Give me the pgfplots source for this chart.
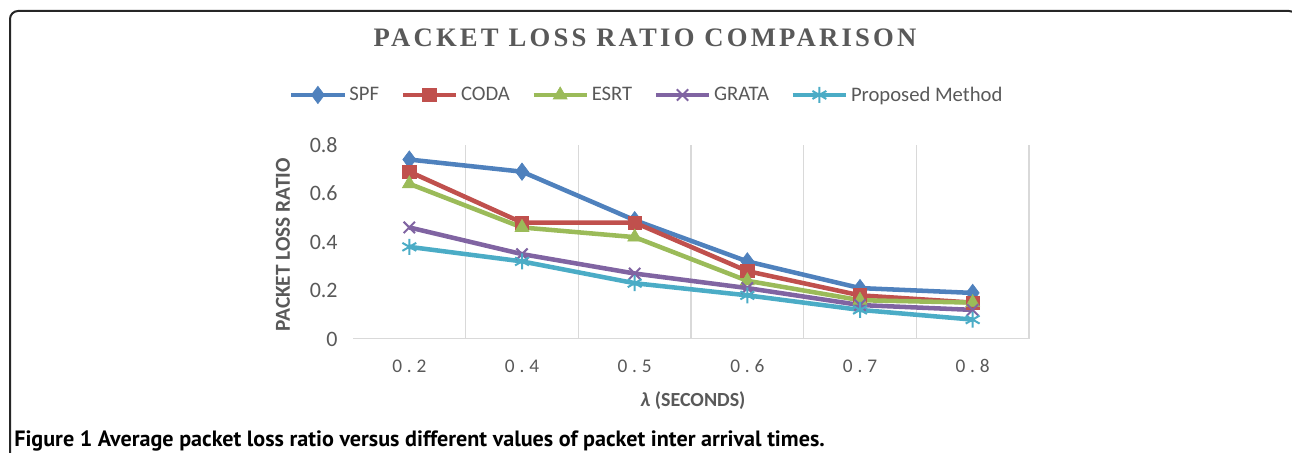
\documentclass[border=0pt]{standalone}
\usepackage{fontspec}
\setmainfont{Carlito}[Ligatures=NoCommon]
\newfontfamily\titlefont[LetterSpace=12]{Liberation Serif}
\newfontfamily\spaced[LetterSpace=25]{Carlito}
\newfontfamily\capfont{PT Sans}
\usepackage{pgfplots}
\pgfplotsset{compat=1.18}
\definecolor{cSPF}{HTML}{4F81BD}
\definecolor{cCODA}{HTML}{C0504D}
\definecolor{cESRT}{HTML}{9BBB59}
\definecolor{cGRATA}{HTML}{8064A2}
\definecolor{cProp}{HTML}{4BACC6}
\definecolor{txt}{HTML}{595959}
\definecolor{grd}{HTML}{D9D9D9}
\begin{document}
\begin{tikzpicture}[x=0.75pt,y=0.75pt]
\path[use as bounding box] (0,0) rectangle (1292,453);
\draw[line width=1.5pt, color=black!85, rounded corners=6pt] (10,-10) -- (10,442) -- (1297,442) -- (1297,-10);
\node[font=\titlefont\bfseries\fontsize{20}{24}\selectfont, text=txt] at (645,415) {PACKET LOSS RATIO COMPARISON};
\begin{axis}[
  at={(264.75pt,85.5pt)}, anchor=south west,
  scale only axis, width=507pt, height=145.5pt,
  xmin=-0.5, xmax=5.5, ymin=0, ymax=0.8,
  axis line style={draw=none},
  xtick={0,1,2,3,4,5},
  xticklabels={0.2,0.4,0.5,0.6,0.7,0.8},
  ytick={0,0.2,0.4,0.6,0.8},
  yticklabels={0,0.2,0.4,0.6,0.8},
  minor xtick={0.5,1.5,2.5,3.5,4.5,5.5},
  xminorgrids=true,
  minor grid style={grd, line width=1.2pt},
  major tick length=0pt, minor tick length=0pt,
  xticklabel style={font=\spaced\fontsize{14.5}{16}\selectfont, text=txt, yshift=-12pt},
  yticklabel style={font=\fontsize{16.5}{18}\selectfont, text=txt, xshift=-8pt},
  xlabel={\textbf{\textit{λ} (SECONDS)}},
  xlabel style={at={(axis description cs:0.503,-0.32)}, anchor=center, font=\fontsize{15}{18}\selectfont, text=txt},
  ylabel={\textbf{PACKET LOSS RATIO}},
  ylabel style={at={(axis description cs:-0.1036,0.485)}, anchor=center, font=\fontsize{16}{18}\selectfont, text=txt},
  legend columns=-1,
  legend style={at={(axis description cs:0.435,1.258)}, anchor=center, draw=none, fill=none,
    font=\fontsize{15.5}{18}\selectfont, text=txt,
    /tikz/every even column/.append style={column sep=14pt},
    inner sep=0pt},
  legend image code/.code={\draw[mark repeat=2,mark phase=2] plot coordinates {(0pt,0pt) (20pt,0pt) (40pt,0pt)};},
]
\draw[grd, line width=1.5pt] (axis cs:-0.5,0) -- (axis cs:5.5,0);
\addplot[cSPF, line width=3.4pt, mark=diamond*, mark size=6.5pt, mark options={solid, line width=0.5pt}] coordinates {(0,0.74) (1,0.69) (2,0.49) (3,0.32) (4,0.21) (5,0.19)};
\addplot[cCODA, line width=3.4pt, mark=square*, mark size=5pt, mark options={solid, line width=0.5pt}] coordinates {(0,0.69) (1,0.48) (2,0.48) (3,0.28) (4,0.18) (5,0.15)};
\addplot[cESRT, line width=3.4pt, mark=triangle*, mark size=6pt, mark options={solid, line width=0.5pt}] coordinates {(0,0.64) (1,0.46) (2,0.42) (3,0.24) (4,0.16) (5,0.15)};
\addplot[cGRATA, line width=3.4pt, mark=x, mark size=6pt, mark options={solid, line width=1.5pt}] coordinates {(0,0.46) (1,0.35) (2,0.27) (3,0.21) (4,0.14) (5,0.12)};
\addplot[cProp, line width=3.4pt, mark=asterisk, mark size=6pt, mark options={solid, line width=1.5pt}] coordinates {(0,0.38) (1,0.32) (2,0.23) (3,0.18) (4,0.12) (5,0.08)};
\legend{SPF,CODA,ESRT,GRATA,Proposed Method}
\end{axis}
\node[anchor=base west, font=\capfont\bfseries\fontsize{16.6}{18}\selectfont, inner sep=0pt] at (14,6) {Figure 1 Average packet loss ratio versus different values of packet inter arrival times.};
\end{tikzpicture}
\end{document}
